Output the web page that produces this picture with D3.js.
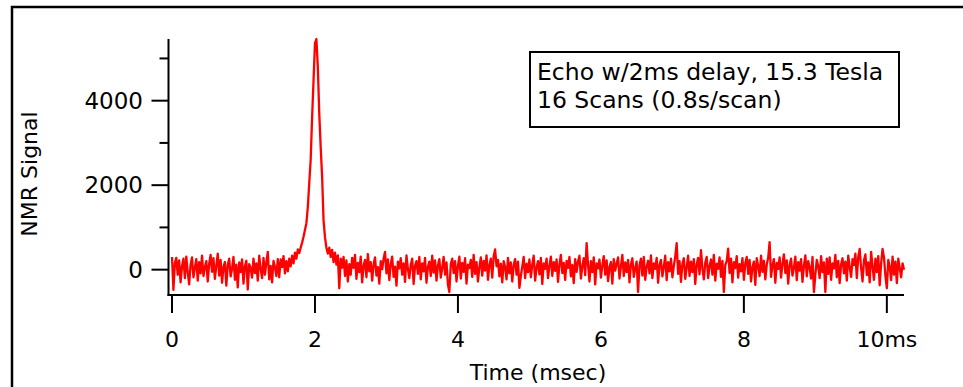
<!DOCTYPE html>
<html>
  <head>
    <meta charset="utf-8" />
    <title>NMR Echo</title>
    <style>
      body {
        margin: 0;
        background: #fff;
      }
      text {
        font-family: "DejaVu Sans", Verdana, sans-serif;
        fill: #000;
      }
    </style>
  </head>
  <body>
    <svg width="963" height="387"></svg>

    <script src="https://d3js.org/d3.v7.min.js"></script>
    <script>
      // sample spacing in ms (signal sampled from 0 to 10.24 ms)
      const dt = 0.02;

      // NMR signal, one value per sample
      const signal = [
        // 0.00 - 0.48
        300, -480, 150, 280, -120, 220, -300, 80, 260, -200, 310, -60, -350, 120, 290, -180, 40, 250, -260, 180, -90, 330, -150, 60, 200,
        // 0.50 - 0.98
        -280, 140, 350, -50, 270, -220, 90, 380, -140, 230, -310, 60, 180, -380, 110, 260, -160, 20, 300, -240, 120, -420, 170, -60, 240,
        // 1.00 - 1.48
        -330, 80, 210, -470, 130, 40, -190, 260, -80, 150, -260, 330, 20, -200, 280, -120, 170, 420, -230, 90, -300, 210, 60, -150, 250,
        // 1.50 - 1.98
        -180, 240, 60, 320, -90, 200, -40, 260, 80, 330, 150, 400, 260, 480, 390, 520, 640, 780, 940, 1100, 1480, 2050, 2600, 3600, 4480,
        // 2.00 - 2.48 (echo)
        5360, 5460, 4800, 3700, 2900, 2200, 1170, 770, 520, 380, 520, 300, 470, 180, 400, 120, 340, -440, 260, 50, 300, -150, 220, -280, 130,
        // 2.50 - 2.98
        -120, 280, 40, 350, -220, 160, -60, 310, -300, 90, 230, -180, 370, -40, 180, -260, 120, 290, -140, 60, -330, 200, 10, 260, 420,
        // 3.00 - 3.48
        -90, 240, -250, 130, 310, -170, 70, -380, 190, 30, 270, -120, 150, -290, 340, 20, -200, 110, 260, -340, 90, 200, -100, 300, -230,
        // 3.50 - 3.98
        150, -40, 280, -310, 60, 190, -150, 330, -70, 220, -260, 100, 250, -190, 40, 300, -120, 170, -350, -530, 130, 260, -80, 200, -280,
        // 4.00 - 4.48
        90, 310, -210, 160, -50, 270, -330, 120, 40, 230, -170, 350, -100, 180, -280, 60, 290, -140, 210, -20, 340, -240, 110, 260, -190,
        // 4.50 - 4.98
        320, 480, 80, 230, -160, 140, -300, 200, 60, -230, 280, -90, 170, -280, 110, 250, -120, 190, -430, -150, 70, 300, -200, 140, -60,
        // 5.00 - 5.48
        240, -180, 120, 330, -260, 50, 200, -110, 280, -340, 150, 20, 260, -200, 90, 310, -150, 180, -30, 240, -290, 130, 350, -80, 160,
        // 5.50 - 5.98
        -240, 210, 40, 300, -160, 110, -320, 250, -50, 190, 330, -210, 80, 270, -130, 630, 120, -280, 200, -60, 290, -350, 150, 30, 240,
        // 6.00 - 6.48
        -190, 100, 320, -120, 220, -270, 60, 180, -330, 250, -20, 140, 290, -210, 80, 350, -150, 170, -60, 230, -300, 120, 270, -170, 40,
        // 6.50 - 6.98
        190, -530, 110, 260, -140, 300, -240, 70, 210, -90, 340, -200, 150, 20, 280, -310, 120, 230, -160, 60, 330, -250, 180, -40, 260,
        // 7.00 - 7.48
        -180, 90, 310, 630, -100, 200, -290, 140, 270, -220, 50, 330, -150, 190, -60, 250, -340, 120, 280, -110, 460, 30, -230, 170, 300,
        // 7.50 - 7.98
        -200, 80, 240, -120, 350, -260, 140, 20, 290, -170, 210, -530, 110, 200, 500, -80, 260, -300, 180, 40, 320, -190, 130, -40, 270,
        // 8.00 - 8.48
        -240, 150, 300, -100, 230, -280, 60, 190, -360, 270, 90, -150, 330, -50, 210, -230, 120, 280, 650, -170, 100, 250, -310, 160, 20,
        // 8.50 - 8.98
        290, -190, 140, 360, -80, 220, -330, 110, 260, -140, 40, 310, -250, 180, -20, 250, -290, 90, 340, -160, 200, 60, -210, 300, -530,
        // 9.00 - 9.48
        -120, 230, 80, -200, 320, -60, 170, -530, 260, -100, 290, -240, 150, 30, 350, -180, 210, -320, 120, 270, -90, 190, -260, 330, 60,
        // 9.50 - 9.98
        -170, 250, 110, 380, -200, 300, 490, 40, -280, 220, 360, -130, 170, -300, 420, 80, -240, 260, -60, 320, -370, 150, 490, 290, -150,
        // 10.00 - 10.24
        -440, 230, 80, -250, 310, -120, 190, -320, 260, 40, -180, 150, 0,
      ];

      const xTicks = [0, 2, 4, 6, 8, 10];
      const xTickLabels = ["0", "2", "4", "6", "8", "10ms"];
      const yMajor = [0, 2000, 4000];
      const yMinor = [1000, 3000, 5000];
      const legendLines = ["Echo w/2ms delay, 15.3 Tesla", "16 Scans (0.8s/scan)"];

      const svg = d3.select("svg");

      // outer frame (runs off the right and bottom edge)
      svg
        .append("rect")
        .attr("x", 12)
        .attr("y", 7)
        .attr("width", 1000)
        .attr("height", 500)
        .attr("fill", "none")
        .attr("stroke", "#000")
        .attr("stroke-width", 2.5);

      const x = d3.scaleLinear().domain([0, 10.24]).range([172, 904]);
      const y = d3.scaleLinear().domain([-600, 5460]).range([295, 39]);

      // trace
      const line = d3
        .line()
        .x((d, i) => x(i * dt))
        .y((d) => y(d));

      svg
        .append("path")
        .datum(signal)
        .attr("fill", "none")
        .attr("stroke", "#ff0000")
        .attr("stroke-width", 2.3)
        .attr("stroke-linejoin", "round")
        .attr("d", line);

      // y axis
      const yAxisX = 168.5;
      svg
        .append("line")
        .attr("x1", yAxisX)
        .attr("x2", yAxisX)
        .attr("y1", 39)
        .attr("y2", 296)
        .attr("stroke", "#000")
        .attr("stroke-width", 2);

      svg
        .selectAll(".ymajor")
        .data(yMajor)
        .join("line")
        .attr("class", "ymajor")
        .attr("x1", yAxisX - 17)
        .attr("x2", yAxisX)
        .attr("y1", (d) => y(d))
        .attr("y2", (d) => y(d))
        .attr("stroke", "#000")
        .attr("stroke-width", 2);

      svg
        .selectAll(".yminor")
        .data(yMinor)
        .join("line")
        .attr("class", "yminor")
        .attr("x1", yAxisX - 9)
        .attr("x2", yAxisX)
        .attr("y1", (d) => y(d))
        .attr("y2", (d) => y(d))
        .attr("stroke", "#000")
        .attr("stroke-width", 2);

      svg
        .selectAll(".ylabel")
        .data(yMajor)
        .join("text")
        .attr("class", "ylabel")
        .attr("x", 143)
        .attr("y", (d) => y(d))
        .attr("dy", "0.36em")
        .attr("text-anchor", "end")
        .style("font-size", "23px")
        .text((d) => d);

      // x axis
      const xAxisY = 295;
      svg
        .append("line")
        .attr("x1", 167.5)
        .attr("x2", 904)
        .attr("y1", xAxisY)
        .attr("y2", xAxisY)
        .attr("stroke", "#000")
        .attr("stroke-width", 2);

      svg
        .selectAll(".xtick")
        .data(xTicks)
        .join("line")
        .attr("class", "xtick")
        .attr("x1", (d) => x(d))
        .attr("x2", (d) => x(d))
        .attr("y1", xAxisY)
        .attr("y2", xAxisY + 18)
        .attr("stroke", "#000")
        .attr("stroke-width", 2);

      svg
        .selectAll(".xlabel")
        .data(xTicks)
        .join("text")
        .attr("class", "xlabel")
        .attr("x", (d) => x(d))
        .attr("y", 347)
        .attr("text-anchor", "middle")
        .style("font-size", "22px")
        .text((d, i) => xTickLabels[i]);

      // axis titles
      svg
        .append("text")
        .attr("x", 538)
        .attr("y", 380)
        .attr("text-anchor", "middle")
        .style("font-size", "22px")
        .text("Time (msec)");

      svg
        .append("text")
        .attr("transform", "translate(37,174) rotate(-90)")
        .attr("text-anchor", "middle")
        .style("font-size", "22px")
        .text("NMR Signal");

      // legend box
      svg
        .append("rect")
        .attr("x", 530)
        .attr("y", 52)
        .attr("width", 369)
        .attr("height", 75)
        .attr("fill", "#fff")
        .attr("stroke", "#000")
        .attr("stroke-width", 2);

      svg
        .selectAll(".legend")
        .data(legendLines)
        .join("text")
        .attr("class", "legend")
        .attr("x", 537)
        .attr("y", (d, i) => 80 + i * 28)
        .style("font-size", "23.5px")
        .text((d) => d);
    </script>
  </body>
</html>
